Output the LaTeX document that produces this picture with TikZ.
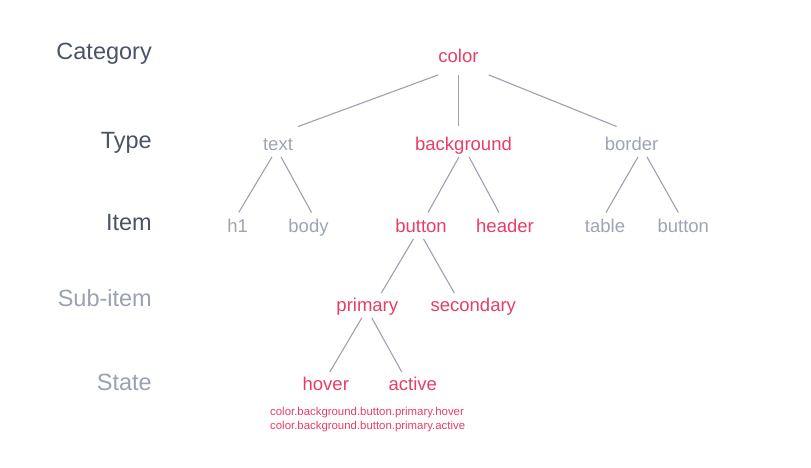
\documentclass[tikz,border=0pt]{standalone}
\usepackage{fontspec}
\setmainfont{Liberation Sans}
\usepackage{xcolor}
\usetikzlibrary{positioning}
\definecolor{hotred}{HTML}{E63E64}
\definecolor{labeldark}{HTML}{4B5366}
\definecolor{labellight}{HTML}{9AA1B1}
\definecolor{tokgray}{HTML}{9EA4B2}
\definecolor{edgegray}{HTML}{9CA1B0}

\begin{document}
\begin{tikzpicture}[x=1pt, y=-1pt,
    lvl/.style={anchor=base east, inner sep=0pt, font=\fontsize{23.5}{26}\selectfont},
    tok/.style={anchor=base, inner xsep=0pt, inner ysep=0pt, text height=20pt, text depth=6pt,
                text=tokgray, font=\fontsize{18.5}{22}\selectfont},
    hot/.style={tok, text=hotred},
    edge/.style={draw=edgegray, line width=1.1pt},
    fullname/.style={anchor=base west, inner sep=0pt, text=hotred, font=\fontsize{11.4}{14}\selectfont}]
  \useasboundingbox (0,0) rectangle (811,468);

  % Level names on the left
  \node[lvl, text=labeldark] (lcat) at (152, 59.5) {Category};
  \node[lvl, text=labeldark] (ltype) at (152, 148.3) {Type};
  \node[lvl, text=labeldark] (litem) at (152, 230) {Item};
  \node[lvl, text=labellight] (lsub) at (152, 306.7) {Sub-item};
  \node[lvl, text=labellight] (lstate) at (152, 390) {State};

  % Category
  \node[hot] (color) at (458.5, 62.7) {color};

  % Types
  \node[tok] (text) at (278, 150.7) {text};
  \node[hot] (background) at (463.5, 150.7) {background};
  \node[tok] (border) at (631.5, 150.7) {border};

  % Items
  \node[tok] (h1) at (237.7, 232.7) {h1};
  \node[tok] (body) at (308.5, 232.7) {body};
  \node[hot] (button) at (421, 232.7) {button};
  \node[hot] (header) at (505, 232.7) {header};
  \node[tok] (table) at (605, 232.7) {table};
  \node[tok] (bbutton) at (683.3, 232.7) {button};

  % Sub-items
  \node[hot] (primary) at (367.3, 311.7) {primary};
  \node[hot] (secondary) at (473.3, 311.7) {secondary};

  % States
  \node[hot] (hover) at (325.8, 390.7) {hover};
  \node[hot] (active) at (412.8, 390.7) {active};

  % Full token names
  \node[fullname] (nhover) at (270, 415) {color.background.button.primary.hover};
  \node[fullname] (nactive) at (270, 429.5) {color.background.button.primary.active};

  % Branches from color
  \draw[edge] ([yshift=-6pt]color.south west) -- ([xshift=5pt, yshift=4pt]text.north east);
  \draw[edge] ([yshift=-6pt]color.south) -- ([xshift=-5pt, yshift=4pt]background.north);
  \draw[edge] ([xshift=10pt, yshift=-6pt]color.south east) -- ([xshift=12pt, yshift=4pt]border.north west);

  % Branches from the types
  \draw[edge] ([xshift=-6pt]text.south) -- ([xshift=1pt]h1.north);
  \draw[edge] ([xshift=3pt]text.south) -- ([xshift=3pt]body.north);
  \draw[edge] ([xshift=-4.5pt]background.south) -- ([xshift=7pt]button.north);
  \draw[edge] ([xshift=5.5pt]background.south) -- ([xshift=-6pt]header.north);
  \draw[edge] ([xshift=6.5pt]border.south) -- ([xshift=1pt]table.north);
  \draw[edge] ([xshift=15.5pt]border.south) -- ([xshift=-5pt]bbutton.north);

  % Branches from button
  \draw[edge] ([xshift=-7.5pt]button.south) -- ([xshift=14pt, yshift=-1.5pt]primary.north);
  \draw[edge] ([xshift=2.5pt]button.south) -- ([xshift=-19pt, yshift=-1.5pt]secondary.north);

  % Branches from primary
  \draw[edge] ([xshift=-5.5pt]primary.south) -- ([xshift=4pt, yshift=-1.5pt]hover.north);
  \draw[edge] ([xshift=4.5pt]primary.south) -- ([xshift=-11pt, yshift=-1.5pt]active.north);
\end{tikzpicture}
\end{document}
